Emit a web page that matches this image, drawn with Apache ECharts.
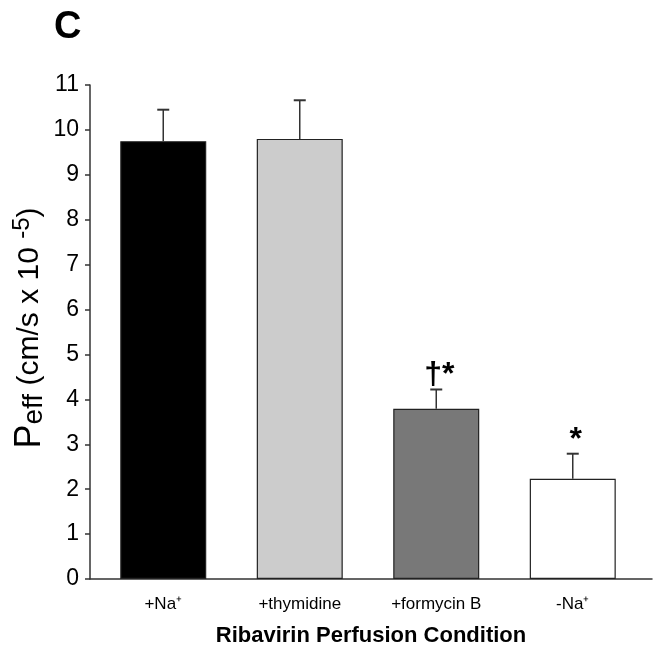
<!DOCTYPE html>
<html>
<head>
<meta charset="utf-8">
<script src="https://cdn.jsdelivr.net/npm/echarts@6/dist/echarts.min.js"></script>
<style>html,body{margin:0;padding:0;background:#fff;}#c{width:662px;height:659px;}</style>
</head>
<body>
<div id="c"></div>
<script>
const categories = ['+Na\u207A', '+thymidine', '+formycin B', '-Na\u207A'];
const means = [9.75, 9.8, 3.79, 2.23];
const upperErr = [10.45, 10.66, 4.22, 2.79];
const barColors = ['#000000', '#cccccc', '#787878', '#ffffff'];
const marks = ['', '', '\u2020*', '*'];
const yTicks = [0, 1, 2, 3, 4, 5, 6, 7, 8, 9, 10, 11];

const chart = echarts.init(document.getElementById('c'));
const font = 'Liberation Sans, Arial, sans-serif';

chart.setOption({
  animation: false,
  backgroundColor: '#fff',
  grid: [
    { left: 95, right: 21, top: 85, bottom: 80 },
    { left: 90, right: 10, top: 85, bottom: 80 }
  ],
  xAxis: [
    {
      type: 'category', gridIndex: 0, data: categories,
      axisLine: { show: false }, axisTick: { show: false },
      axisLabel: { color: '#000', fontFamily: font, fontSize: 17, margin: 17 }
    },
    {
      type: 'value', gridIndex: 1, min: 0, max: 1,
      axisLine: { show: true, lineStyle: { color: '#333', width: 1.5 } },
      axisTick: { show: false }, axisLabel: { show: false }, splitLine: { show: false },
      name: 'Ribavirin Perfusion Condition', nameLocation: 'middle', nameGap: 46,
      nameTextStyle: { color: '#000', fontFamily: font, fontSize: 22, fontWeight: 'bold' }
    }
  ],
  yAxis: [
    {
      type: 'value', gridIndex: 0, min: 0, max: 11, interval: 1,
      show: false, splitLine: { show: false }
    },
    {
      type: 'value', gridIndex: 1, min: 0, max: 11, interval: 1,
      axisLine: { show: true, lineStyle: { color: '#333', width: 1.5 } },
      axisTick: { show: true, length: 5, lineStyle: { color: '#333', width: 1.5 } },
      axisLabel: {
        color: '#000', fontFamily: font, fontSize: 23, margin: 11,
        formatter: v => yTicks.includes(v) ? String(v) : ''
      },
      splitLine: { show: false }
    }
  ],
  graphic: [
    {
      type: 'text', left: 54, top: 9,
      style: { text: 'C', font: 'bold 38px ' + font, fill: '#000' }
    },
    {
      type: 'text', x: 30, y: 328, rotation: Math.PI / 2,
      style: {
        text: '{p|P}{s|eff}{n| (cm/s x 10 }{e|-5}{n|)}',
        align: 'center', verticalAlign: 'middle', fill: '#000',
        rich: {
          p: { fontFamily: font, fontSize: 36, fill: '#000' },
          s: { fontFamily: font, fontSize: 28, fill: '#000', padding: [9, 0, 0, 0] },
          n: { fontFamily: font, fontSize: 30, fill: '#000' },
          e: { fontFamily: font, fontSize: 24, fill: '#000', padding: [0, 0, 15, 0] }
        }
      }
    }
  ],
  series: [
    {
      type: 'bar', xAxisIndex: 0, yAxisIndex: 0,
      barWidth: 86,
      data: means.map((v, i) => ({
        value: v,
        itemStyle: { color: barColors[i], borderColor: '#222', borderWidth: 1.2 }
      }))
    },
    {
      type: 'custom', xAxisIndex: 0, yAxisIndex: 0,
      data: means.map((v, i) => [i, v, upperErr[i], marks[i]]),
      renderItem: function (params, api) {
        const base = api.coord([api.value(0), api.value(1)]);
        const top = api.coord([api.value(0), api.value(2)]);
        const hw = 6;
        const children = [
          { type: 'line', shape: { x1: base[0], y1: base[1], x2: top[0], y2: top[1] },
            style: { stroke: '#333', lineWidth: 1.5 } },
          { type: 'line', shape: { x1: top[0] - hw, y1: top[1], x2: top[0] + hw, y2: top[1] },
            style: { stroke: '#333', lineWidth: 2 } }
        ];
        const m = marks[params.dataIndex];
        if (m) {
          children.push({
            type: 'text', x: top[0] + 3, y: top[1] + 2,
            style: { text: m, font: 'bold 32px ' + font, fill: '#000',
                     align: 'center', verticalAlign: 'bottom' }
          });
        }
        return { type: 'group', children: children };
      },
      z: 5
    }
  ]
});
</script>
</body>
</html>
